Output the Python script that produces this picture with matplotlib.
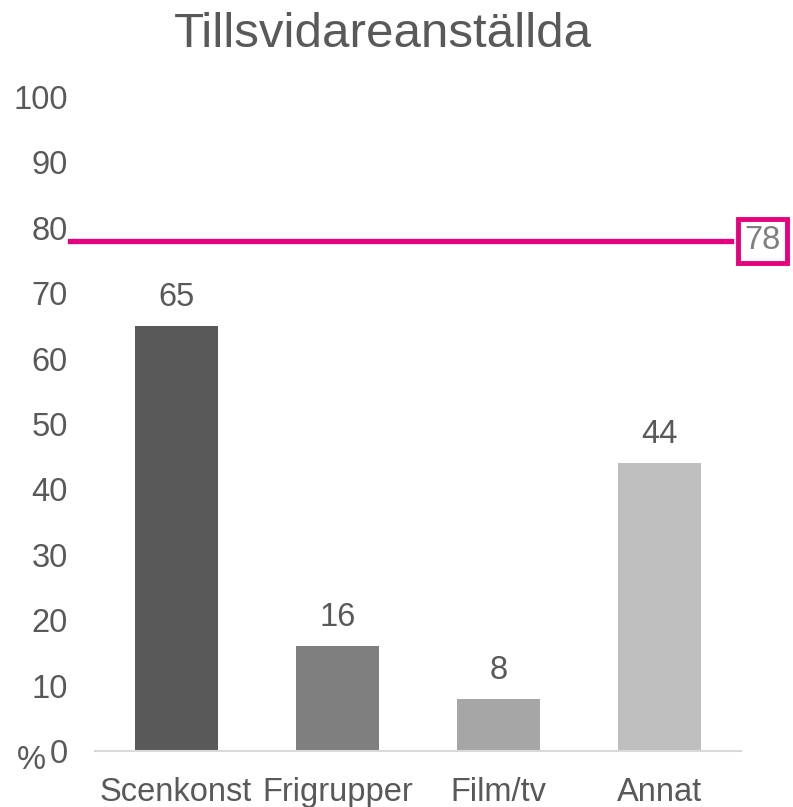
import matplotlib
matplotlib.use("Agg")
import matplotlib.pyplot as plt

categories = ["Scenkonst", "Frigrupper", "Film/tv", "Annat"]
values = [65, 16, 8, 44]
bar_colors = ["#595959", "#7f7f7f", "#a6a6a6", "#bfbfbf"]
reference_value = 78
yticks = [0, 10, 20, 30, 40, 50, 60, 70, 80, 90, 100]
title = "Tillsvidareanställda"

plt.rcParams["font.family"] = ["Liberation Sans", "DejaVu Sans"]
text_color = "#595959"
accent = "#e6007e"

fig = plt.figure(figsize=(7.93, 8.07), dpi=100)
ax = fig.add_axes([0.1204, 0.0694, 0.8134, 0.8104])

x = list(range(len(categories)))
ax.bar(x, values, width=0.515, color=bar_colors, zorder=2)
for xi, v in zip(x, values):
    ax.text(xi, v + 2.0, str(v), ha="center", va="bottom", fontsize=23.5, color=text_color)

ax.set_xlim(-0.5, len(categories) - 0.5)
ax.set_ylim(0, 100)
ax.set_yticks(yticks)
ax.set_yticklabels([str(t) for t in yticks], fontsize=23.5, color=text_color)
ax.set_xticks(x)
ax.set_xticklabels(categories, fontsize=23.5, color=text_color)
ax.tick_params(axis="both", length=0)
ax.tick_params(axis="y", pad=20)
ax.tick_params(axis="x", pad=19)

for s in ["top", "right", "left"]:
    ax.spines[s].set_visible(False)
ax.spines["bottom"].set_color("#d9d9d9")
ax.spines["bottom"].set_linewidth(1.5)

# reference line with boxed value
ax.axhline(reference_value, xmin=-0.04, xmax=0.985, color=accent, lw=3.8, clip_on=False, zorder=3)
ax.text(1.034, reference_value, str(reference_value), transform=ax.get_yaxis_transform(),
        ha="center", va="center", fontsize=23.5, color="#7f7f7f",
        bbox=dict(boxstyle="square,pad=0.2", fc="white", ec=accent, lw=3.5), zorder=4)

fig.text(0.04, 0.058, "%", fontsize=23.5, color=text_color, ha="center", va="center")
fig.text(0.483, 0.957, title, fontsize=35.5, color=text_color, ha="center", va="center")

fig.savefig("out.png", dpi=100)
